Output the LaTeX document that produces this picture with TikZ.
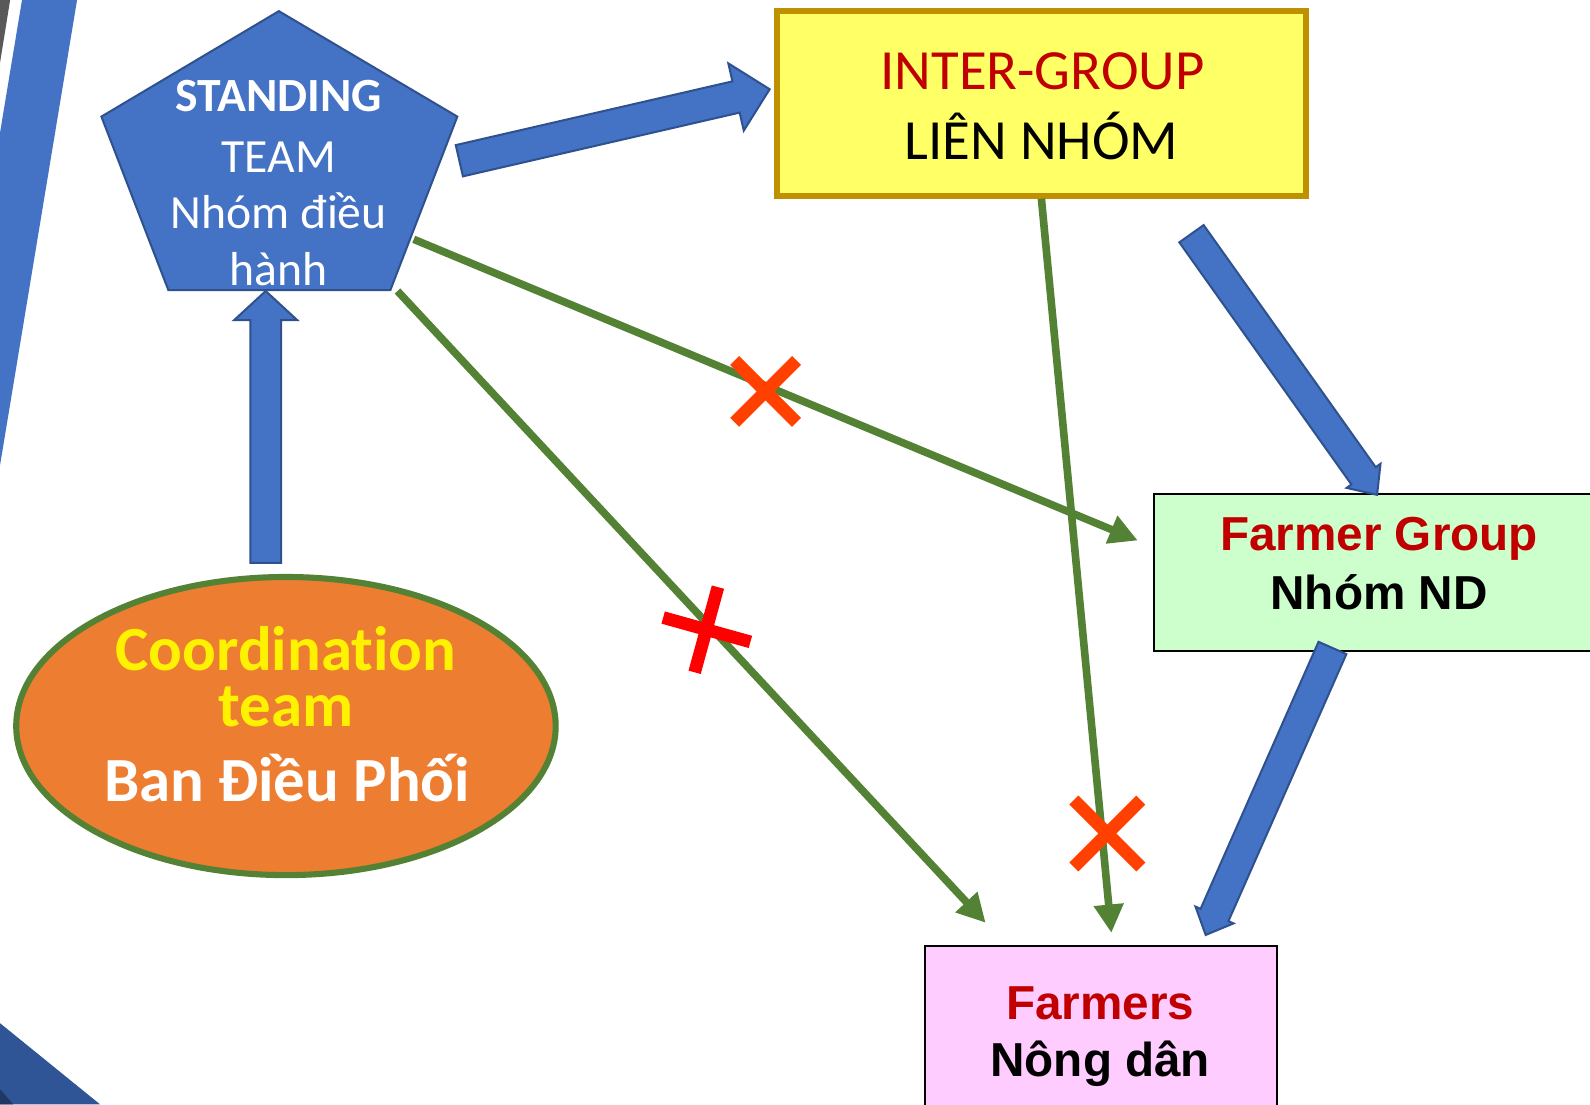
\documentclass[tikz,border=0pt]{standalone}
\usepackage{fontspec}
\setmainfont{Carlito}[Ligatures={NoCommon}]
\newfontfamily\arialf{Liberation Sans}
\usetikzlibrary{calc,arrows.meta,shapes.geometric}
\definecolor{pblue}{HTML}{4472C4}
\definecolor{pbord}{HTML}{2F528F}
\definecolor{dblue}{HTML}{2F5597}
\definecolor{navy}{HTML}{1F3864}
\definecolor{dgray}{HTML}{595959}
\definecolor{ygold}{HTML}{BF9000}
\definecolor{yfill}{HTML}{FFFF66}
\definecolor{gfill}{HTML}{CCFFCC}
\definecolor{mfill}{HTML}{FFCCFF}
\definecolor{orfill}{HTML}{ED7D31}
\definecolor{lgreen}{HTML}{548235}
\definecolor{dred}{HTML}{C00000}
\definecolor{xorange}{RGB}{255,64,0}
\definecolor{xred}{RGB}{255,0,0}
\newcommand{\blkarrow}[5]{%
  \path ($(#2)!#5!(#1)$) coordinate (bah);
  \draw[blockarrow] ($(#1)!#3!90:(#2)$) -- ($(bah)!#3!90:(#2)$) -- ($(bah)!#4!90:(#2)$) -- (#2)
    -- ($(bah)!#4!-90:(#2)$) -- ($(bah)!#3!-90:(#2)$) -- ($(#1)!#3!-90:(#2)$) -- cycle;}
\begin{document}
\begin{tikzpicture}[x=1pt,y=-1pt,
  blockarrow/.style={fill=pblue,draw=pbord,line width=2pt,line join=miter},
  greenline/.style={draw=lgreen,line width=7.5pt,-{Triangle[length=28pt,width=28pt]}},
  crossline/.style={line width=12.5pt},
  txt/.style={inner sep=0pt,anchor=base},
  boxnode/.style={rectangle,inner sep=0pt,draw=black,line width=2pt}]
\useasboundingbox (0,0) rectangle (1568,1089);
\fill[white] (0,0) rectangle (1568,1089);
\begin{scope}
\clip (0,0) rectangle (1568,1089);
% side decorations
\fill[pblue] (21.7,0) -- (76,0) -- (0,459) -- (0,131) -- cycle;
\fill[dgray] (0,0) -- (10,0) -- (0,62) -- cycle;
\fill[dblue] (0,1009) -- (98.6,1089) -- (0,1089) -- cycle;
\fill[navy] (0,1074) -- (13,1089) -- (0,1089) -- cycle;

% standing team pentagon
\draw[fill=pblue,draw=pbord,line width=2pt] (275,11) -- (451,115) -- (385,286) -- (166,286) -- (100,115) -- cycle;
\coordinate (st) at (275,160);
\node[txt,text=white,font=\fontsize{47}{56}\selectfont\bfseries] (st1) at (275,110) {STANDING};
\node[txt,text=white,font=\fontsize{47}{56}\selectfont] (st2) at (275,170) {TEAM};
\node[txt,text=white,font=\fontsize{47}{56}\selectfont] (st3) at (275,225) {Nhóm điều};
\node[txt,text=white,font=\fontsize{47}{56}\selectfont] (st4) at (275,282) {hành};

% inter-group
\node[rectangle,inner sep=0pt,draw=ygold,fill=yfill,line width=6pt,minimum width=522pt,minimum height=182pt] (inter) at (1027,102) {};
\node[txt,text=dred,font=\fontsize{56}{69}\selectfont] (in1) at (1028,88) {INTER-GROUP};
\node[txt,text=black,font=\fontsize{56}{69}\selectfont] (in2) at (1027,157) {LIÊN NHÓM};

% farmer group
\node[boxnode,fill=gfill,minimum width=444pt,minimum height=155pt] (fg) at (1360,564.5) {};
\node[txt,text=dred,font=\arialf\bfseries\fontsize{47}{58}\selectfont] (fg1) at (1360,543) {Farmer Group};
\node[txt,text=black,font=\arialf\bfseries\fontsize{47}{58}\selectfont] (fg2) at (1360,601) {Nhóm ND};

% farmers
\node[boxnode,fill=mfill,minimum width=347pt,minimum height=190pt] (fa) at (1085.5,1028) {};
\node[txt,text=dred,font=\arialf\bfseries\fontsize{47}{58}\selectfont] (fa1) at (1085,1005) {Farmers};
\node[txt,text=black,font=\arialf\bfseries\fontsize{47}{58}\selectfont] (fa2) at (1085,1062) {Nông dân};

% coordination team
\node[ellipse,inner sep=0pt,draw=lgreen,fill=orfill,line width=6pt,minimum width=532pt,minimum height=294pt] (co) at (282,716) {};
\node[txt,text=yellow,font=\fontsize{62}{54}\selectfont\bfseries] (co1) at (282,661) {Coordination};
\node[txt,text=yellow,font=\fontsize{62}{54}\selectfont\bfseries] (co2) at (282,716) {team};
\node[txt,text=white,font=\fontsize{62}{54}\selectfont\bfseries] (co3) at (283,790) {Ban Điều Phối};

% connector end points
\coordinate (a1t) at (453,158.5);  \coordinate (a1h) at (759,88);
\coordinate (a2t) at (1175,230.5); \coordinate (a2h) at (1358,488);
\coordinate (a3t) at (1314,639);   \coordinate (a3h) at (1189,922);
\coordinate (a4t) at (262,555);    \coordinate (a4h) at (262,287);
\coordinate (g1s) at (408,236);    \coordinate (g1e) at (1122,533);
\coordinate (g2s) at (392,287);    \coordinate (g2e) at (972,910);
\coordinate (g3e) at (1096,920);

% green arrows
\draw[greenline] (g1s) -- (g1e);
\draw[greenline] (g2s) -- (g2e);
\draw[greenline] (inter.south) -- (g3e);

% block arrows
\blkarrow{a1t}{a1h}{15.8pt}{34pt}{34pt}
\blkarrow{a2t}{a2h}{14.7pt}{20.5pt}{23pt}
\blkarrow{a3t}{a3h}{15pt}{20.5pt}{21.5pt}
\blkarrow{a4t}{a4h}{15.2pt}{31pt}{28.6pt}

% crosses
\draw[crossline,xorange] (724.5,355.5) -- (785.5,416.5);
\draw[crossline,xorange] (785.5,355.5) -- (724.5,416.5);
\draw[crossline,xred] (654,609) -- (740,633);
\draw[crossline,xred] (708,579) -- (685,663);
\draw[crossline,xorange] (1059,789) -- (1125,855);
\draw[crossline,xorange] (1125,789) -- (1059,855);
\end{scope}
\end{tikzpicture}
\end{document}
